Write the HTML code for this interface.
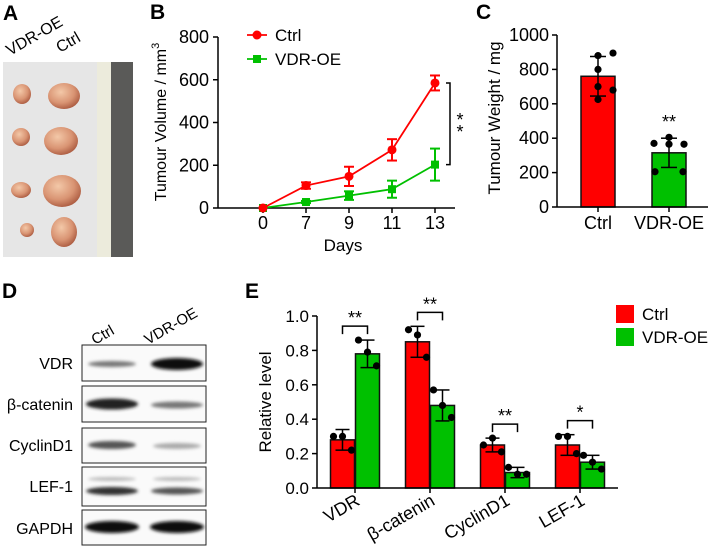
<!DOCTYPE html>
<html><head><meta charset="utf-8"><style>
body{margin:0;background:#fff;}
svg{display:block;font-family:"Liberation Sans",Arial,sans-serif;}
</style></head><body>
<svg id="fig" width="708" height="548" viewBox="0 0 708 548">
<defs>
<filter id="blur1"><feGaussianBlur stdDeviation="1.6"/></filter>
<radialGradient id="tum" cx="40%" cy="35%" r="70%"><stop offset="0" stop-color="#f3c8a8"/><stop offset="0.6" stop-color="#d99473"/><stop offset="1" stop-color="#a8573d"/></radialGradient>
</defs>
<g font-weight="bold" font-size="21" fill="#000">
<text x="3" y="20">A</text>
<text x="150" y="19">B</text>
<text x="476" y="19">C</text>
<text x="2" y="298">D</text>
<text x="245" y="298">E</text>
</g>
<g>
<text x="10" y="56" font-size="16" transform="rotate(-30 10 56)">VDR-OE</text>
<text x="60" y="53" font-size="16" transform="rotate(-30 60 53)">Ctrl</text>
<rect x="3" y="62" width="130" height="195" fill="#e6e6e6"/>
<rect x="97" y="62" width="14" height="195" fill="#ecebdc"/>
<rect x="111" y="62" width="22" height="195" fill="#5a5a58"/>
<g fill="url(#tum)">
<ellipse cx="22" cy="94" rx="9" ry="10"/><ellipse cx="64" cy="96" rx="16" ry="13"/>
<ellipse cx="21" cy="137" rx="9" ry="9"/><ellipse cx="61" cy="141" rx="17" ry="14"/>
<ellipse cx="21" cy="190" rx="10" ry="8"/><ellipse cx="62" cy="191" rx="19" ry="16"/>
<ellipse cx="27" cy="230" rx="7" ry="7"/><ellipse cx="64" cy="232" rx="13" ry="15"/>
</g>
</g>
<g>
<text x="95" y="345" font-size="15" transform="rotate(-30 95 345)">Ctrl</text>
<text x="148" y="345" font-size="15" transform="rotate(-30 148 345)">VDR-OE</text>
<g font-size="16" text-anchor="end">
<text x="73" y="369">VDR</text><text x="73" y="410">β-catenin</text><text x="73" y="451">CyclinD1</text><text x="73" y="492">LEF-1</text><text x="73" y="534">GAPDH</text>
</g>
<g fill="#fafafa" stroke="#222" stroke-width="1">
<rect x="82" y="345" width="124" height="36"/><rect x="82" y="386" width="124" height="36"/><rect x="82" y="428" width="124" height="35"/><rect x="82" y="467" width="124" height="39"/><rect x="82" y="510" width="124" height="35"/>
</g>
<g filter="url(#blur1)">
<ellipse cx="112" cy="364" rx="24" ry="3" fill="#777"/><ellipse cx="177" cy="364" rx="26" ry="6" fill="#111"/>
<ellipse cx="112" cy="404" rx="26" ry="5.5" fill="#222"/><ellipse cx="177" cy="405" rx="26" ry="3.5" fill="#777"/>
<ellipse cx="112" cy="445" rx="24" ry="4" fill="#555"/><ellipse cx="177" cy="446" rx="24" ry="3" fill="#aaa"/>
<ellipse cx="112" cy="479" rx="24" ry="2" fill="#bbb"/><ellipse cx="177" cy="479" rx="24" ry="2" fill="#bbb"/>
<ellipse cx="112" cy="491" rx="26" ry="4" fill="#333"/><ellipse cx="177" cy="491" rx="26" ry="3.5" fill="#555"/>
<ellipse cx="112" cy="527" rx="27" ry="6" fill="#0a0a0a"/><ellipse cx="177" cy="527" rx="27" ry="6" fill="#0a0a0a"/>
</g>
</g>
<g id="chartB"></g>
<g id="chartC"></g>
<g id="chartE"></g>
</svg>
<script>
const NS="http://www.w3.org/2000/svg";
function mk(p,t,a){const e=document.createElementNS(NS,t);for(const k in a)e.setAttribute(k,a[k]);p.appendChild(e);return e;}
const RED="#ff0000",GREEN="#00c000";

const daysB=["0","7","9","11","13"];
const ctrlVol=[0,105,148,272,585];
const ctrlVolErr=[0,15,45,50,35];
const oeVol=[0,28,58,88,203];
const oeVolErr=[0,5,20,40,75];
const ticksB=[0,200,400,600,800];

const groupsC=["Ctrl","VDR-OE"];
const weightMean=[760,315];
const weightSD=[115,85];
const ctrlWeightPts=[880,895,800,680,700,625];
const oeWeightPts=[405,370,365,365,205,205];
const ticksC=[0,200,400,600,800,1000];

const proteinsE=["VDR","β-catenin","CyclinD1","LEF-1"];
const ctrlLevel=[0.28,0.85,0.25,0.25];
const ctrlLevelErr=[0.06,0.09,0.04,0.06];
const oeLevel=[0.78,0.48,0.09,0.15];
const oeLevelErr=[0.08,0.09,0.03,0.04];
const ctrlLevelPts=[[0.30,0.30,0.22],[0.92,0.89,0.76],[0.25,0.29,0.21],[0.30,0.30,0.20]];
const oeLevelPts=[[0.86,0.79,0.71],[0.57,0.48,0.41],[0.12,0.08,0.08],[0.19,0.15,0.11]];
const sigE=["**","**","**","*"];
const ticksE=[0,0.2,0.4,0.6,0.8,1.0];

(function(){
const g=document.getElementById("chartB");
const yB=v=>208-v/800*171, xB=i=>263+i*43;
mk(g,"line",{x1:218,y1:37,x2:218,y2:208,stroke:"#000","stroke-width":1.5});
mk(g,"line",{x1:218,y1:208,x2:455,y2:208,stroke:"#000","stroke-width":1.5});
ticksB.forEach(t=>{
 mk(g,"line",{x1:213,y1:yB(t),x2:218,y2:yB(t),stroke:"#000","stroke-width":1.5});
 const tx=mk(g,"text",{x:209,y:yB(t)+6,"font-size":18,"text-anchor":"end"});tx.textContent=t;
 
 
});
daysB.forEach((d,i)=>{
 mk(g,"line",{x1:xB(i),y1:208,x2:xB(i),y2:213,stroke:"#000","stroke-width":1.5});
 const tx=mk(g,"text",{x:xB(i),y:229,"font-size":18,"text-anchor":"middle"});tx.textContent=d;
 
 
});
const xt=mk(g,"text",{x:343,y:251,"font-size":17,"text-anchor":"middle"});xt.textContent="Days";


const yt=mk(g,"text",{x:0,y:0,"font-size":16,"text-anchor":"middle",transform:"translate(166,122) rotate(-90)"});
yt.innerHTML='Tumour Volume / mm<tspan dy="-7" font-size="11">3</tspan>';


function series(vals,errs,col,sq,name){
 const s=mk(g,"g",{});
 
 
 mk(s,"polyline",{points:vals.map((v,i)=>xB(i)+","+yB(v)).join(" "),fill:"none",stroke:col,"stroke-width":1.8});
 vals.forEach((v,i)=>{
  const e=errs[i];
  if(e>0){mk(s,"line",{x1:xB(i),y1:yB(v+e),x2:xB(i),y2:yB(v-e),stroke:col,"stroke-width":2});
  mk(s,"line",{x1:xB(i)-5,y1:yB(v+e),x2:xB(i)+5,y2:yB(v+e),stroke:col,"stroke-width":2});
  mk(s,"line",{x1:xB(i)-5,y1:yB(v-e),x2:xB(i)+5,y2:yB(v-e),stroke:col,"stroke-width":2});}
  if(sq)mk(s,"rect",{x:xB(i)-4,y:yB(v)-4,width:8,height:8,fill:col});
  else mk(s,"circle",{cx:xB(i),cy:yB(v),r:4.5,fill:col});
 });
}
series(oeVol,oeVolErr,GREEN,true,"series-vdr-oe");
series(ctrlVol,ctrlVolErr,RED,false,"series-ctrl");
mk(g,"line",{x1:247,y1:35,x2:267,y2:35,stroke:RED,"stroke-width":1.8});mk(g,"circle",{cx:257,cy:35,r:4.5,fill:RED});
let t=mk(g,"text",{x:275,y:41,"font-size":17});t.textContent="Ctrl";


mk(g,"line",{x1:247,y1:59,x2:267,y2:59,stroke:GREEN,"stroke-width":1.8});mk(g,"rect",{x:253,y:55,width:8,height:8,fill:GREEN});
t=mk(g,"text",{x:275,y:65,"font-size":17});t.textContent="VDR-OE";


const ya=yB(ctrlVol[4]),yb=yB(oeVol[4]);
mk(g,"polyline",{points:`446,${ya} 450,${ya} 450,${yb} 446,${yb}`,fill:"none",stroke:"#000","stroke-width":1.5});
t=mk(g,"text",{x:460,y:(ya+yb)/2+2,"font-size":18,"text-anchor":"middle"});t.textContent="*";
t=mk(g,"text",{x:460,y:(ya+yb)/2+14,"font-size":18,"text-anchor":"middle"});t.textContent="*";
})();

(function(){
const g=document.getElementById("chartC");
const yC=v=>207-v/1000*172, xC=i=>598+i*71;
const offs=[[0,15,0,15,0,0],[0,-15,0,15,-14,14]];
weightMean.forEach((m,i)=>{
 const r=mk(g,"rect",{x:xC(i)-17,y:yC(m),width:34,height:207-yC(m),fill:i?GREEN:RED,stroke:"#111","stroke-width":1.5});
 
 
 const e=weightSD[i];
 mk(g,"line",{x1:xC(i),y1:yC(m+e),x2:xC(i),y2:yC(m-e),stroke:"#000","stroke-width":1.5});
 mk(g,"line",{x1:xC(i)-8,y1:yC(m+e),x2:xC(i)+8,y2:yC(m+e),stroke:"#000","stroke-width":1.5});
 mk(g,"line",{x1:xC(i)-8,y1:yC(m-e),x2:xC(i)+8,y2:yC(m-e),stroke:"#000","stroke-width":1.5});
 (i?oeWeightPts:ctrlWeightPts).forEach((p,j)=>mk(g,"circle",{cx:xC(i)+offs[i][j],cy:yC(p),r:3.6,fill:"#000"}));
 const tx=mk(g,"text",{x:xC(i),y:229,"font-size":18,"text-anchor":"middle"});tx.textContent=groupsC[i];
 
 
});
mk(g,"line",{x1:557,y1:35,x2:557,y2:207,stroke:"#000","stroke-width":1.5});
mk(g,"line",{x1:557,y1:207,x2:708,y2:207,stroke:"#000","stroke-width":1.5});
groupsC.forEach((_,i)=>mk(g,"line",{x1:xC(i),y1:207,x2:xC(i),y2:212,stroke:"#000","stroke-width":1.5}));
ticksC.forEach(t=>{
 mk(g,"line",{x1:552,y1:yC(t),x2:557,y2:yC(t),stroke:"#000","stroke-width":1.5});
 const tx=mk(g,"text",{x:549,y:yC(t)+6,"font-size":18,"text-anchor":"end"});tx.textContent=t;
 
 
});
let t=mk(g,"text",{x:xC(1),y:yC(weightMean[1]+weightSD[1])-10,"font-size":18,"text-anchor":"middle"});t.textContent="**";
const yt=mk(g,"text",{x:0,y:0,"font-size":17,"text-anchor":"middle",transform:"translate(500,118) rotate(-90)"});yt.textContent="Tumour Weight / mg";


})();

(function(){
const g=document.getElementById("chartE");
const yE=v=>488-v/1.0*172, xE=i=>355+i*75;
const offs=[-9,0,9];
function bar(i,v,e,pts,col,dx,name){
 const x=xE(i)+dx;
 const r=mk(g,"rect",{x:x-12,y:yE(v),width:24,height:488-yE(v),fill:col,stroke:"#111","stroke-width":1.5});
 
 
 mk(g,"line",{x1:x,y1:yE(v+e),x2:x,y2:yE(v-e),stroke:"#000","stroke-width":1.5});
 mk(g,"line",{x1:x-7,y1:yE(v+e),x2:x+7,y2:yE(v+e),stroke:"#000","stroke-width":1.5});
 mk(g,"line",{x1:x-7,y1:yE(v-e),x2:x+7,y2:yE(v-e),stroke:"#000","stroke-width":1.5});
 pts.forEach((p,j)=>mk(g,"circle",{cx:x+offs[j],cy:yE(p),r:3.6,fill:"#000"}));
}
proteinsE.forEach((p,i)=>{
 bar(i,ctrlLevel[i],ctrlLevelErr[i],ctrlLevelPts[i],RED,-12.5,"bar-ctrl-"+i);
 bar(i,oeLevel[i],oeLevelErr[i],oeLevelPts[i],GREEN,12.5,"bar-vdr-oe-"+i);
 mk(g,"line",{x1:xE(i),y1:488,x2:xE(i),y2:493,stroke:"#000","stroke-width":1.5});
 const tx=mk(g,"text",{x:0,y:0,"font-size":18,"text-anchor":"end",transform:`translate(${xE(i)+6},${504}) rotate(-30)`});tx.textContent=p;
 
 
 const top=Math.max(ctrlLevel[i]+ctrlLevelErr[i],ctrlLevelPts[i][0],oeLevel[i]+oeLevelErr[i],oeLevelPts[i][0]);
 const yb=yE(top)-14;
 mk(g,"polyline",{points:`${xE(i)-12.5},${yb+8} ${xE(i)-12.5},${yb} ${xE(i)+12.5},${yb} ${xE(i)+12.5},${yb+8}`,fill:"none",stroke:"#000","stroke-width":1.5});
 const s=mk(g,"text",{x:xE(i),y:yb-2,"font-size":18,"text-anchor":"middle"});s.textContent=sigE[i];
});
mk(g,"line",{x1:317,y1:316,x2:317,y2:488,stroke:"#000","stroke-width":1.5});
mk(g,"line",{x1:317,y1:488,x2:618,y2:488,stroke:"#000","stroke-width":1.5});
ticksE.forEach(t=>{
 mk(g,"line",{x1:312,y1:yE(t),x2:317,y2:yE(t),stroke:"#000","stroke-width":1.5});
 const tx=mk(g,"text",{x:309,y:yE(t)+6,"font-size":17,"text-anchor":"end"});tx.textContent=t.toFixed(1);
 
 
});
const yt=mk(g,"text",{x:0,y:0,"font-size":17,"text-anchor":"middle",transform:"translate(271,402) rotate(-90)"});yt.textContent="Relative level";


mk(g,"rect",{x:616,y:305,width:18,height:18,fill:RED});
let t=mk(g,"text",{x:642,y:320,"font-size":17});t.textContent="Ctrl";


mk(g,"rect",{x:616,y:328,width:18,height:18,fill:GREEN});
t=mk(g,"text",{x:642,y:343,"font-size":17});t.textContent="VDR-OE";


})();
</script>
</body></html>
